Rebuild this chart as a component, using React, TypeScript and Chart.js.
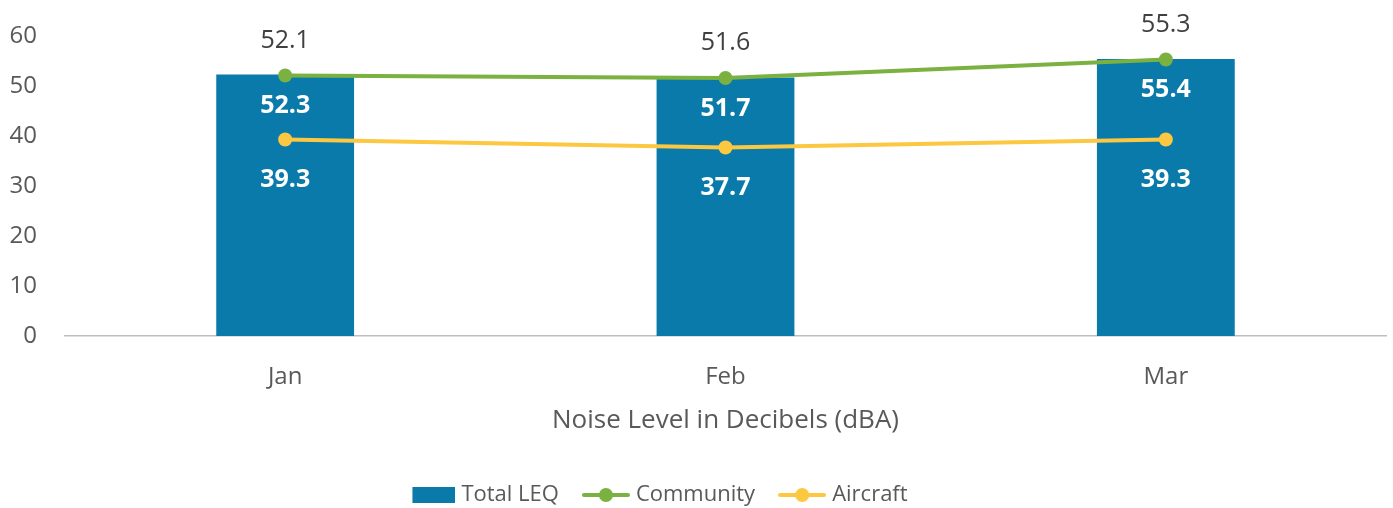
import React, { useEffect, useRef } from "react";
import { Chart, registerables } from "chart.js";

Chart.register(...registerables);

const categories = ["Jan", "Feb", "Mar"];
const totalLeq = [52.3, 51.7, 55.4];
const community = [52.1, 51.6, 55.3];
const aircraft = [39.3, 37.7, 39.3];
const yTicks = [0, 10, 20, 30, 40, 50, 60];
const axisTitle = "Noise Level in Decibels (dBA)";

const BLUE = "#097AAA";
const GREEN = "#7AB140";
const YELLOW = "#FDC841";
const FONT = "'Open Sans', sans-serif";
const FS = 24;

function makeBarIcon() {
  const c = document.createElement("canvas");
  c.width = 48;
  c.height = 18;
  const ctx = c.getContext("2d")!;
  ctx.fillStyle = BLUE;
  ctx.fillRect(5, 1, 43, 16);
  return c;
}
function makeLineIcon(color: string) {
  const c = document.createElement("canvas");
  c.width = 48;
  c.height = 18;
  const ctx = c.getContext("2d")!;
  ctx.strokeStyle = color;
  ctx.lineWidth = 4;
  ctx.lineCap = "round";
  ctx.beginPath();
  ctx.moveTo(2, 9);
  ctx.lineTo(46, 9);
  ctx.stroke();
  ctx.fillStyle = color;
  ctx.beginPath();
  ctx.arc(24, 9, 7, 0, Math.PI * 2);
  ctx.fill();
  return c;
}

const labelPlugin = {
  id: "valueLabels",
  afterLayout(chart: any) {
    if (chart.legend) {
      chart.legend.left -= 34;
      chart.legend.right -= 34;
    }
  },
  afterDatasetsDraw(chart: any) {
    const ctx = chart.ctx;
    ctx.save();
    ctx.textAlign = "center";
    ctx.textBaseline = "middle";
    chart.data.datasets.forEach((ds: any, i: number) => {
      const meta = chart.getDatasetMeta(i);
      meta.data.forEach((el: any, j: number) => {
        const v = ds.data[j];
        const txt = v.toFixed(1);
        if (i === 0) {
          ctx.font = `bold 25px ${FONT}`;
          ctx.fillStyle = "#FFFFFF";
          ctx.fillText(txt, el.x, el.y + 31);
        } else if (i === 1) {
          ctx.font = `25px ${FONT}`;
          ctx.fillStyle = "#404040";
          ctx.fillText(txt, el.x, el.y - 35);
        } else {
          ctx.font = `bold 25px ${FONT}`;
          ctx.fillStyle = "#FFFFFF";
          ctx.fillText(txt, el.x, el.y + 40);
        }
      });
    });
    ctx.restore();
  },
};

export default function App() {
  const ref = useRef<HTMLCanvasElement>(null);
  useEffect(() => {
    const icons = [makeBarIcon(), makeLineIcon(GREEN), makeLineIcon(YELLOW)];
    const chart = new Chart(ref.current!, {
      type: "bar",
      data: {
        labels: categories,
        datasets: [
          {
            type: "bar",
            label: "Total LEQ",
            data: totalLeq,
            backgroundColor: BLUE,
            barPercentage: 0.313,
            categoryPercentage: 1,
            order: 3,
          },
          {
            type: "line",
            label: "Community",
            data: community,
            borderColor: GREEN,
            backgroundColor: GREEN,
            borderWidth: 4,
            pointRadius: 7,
            pointHoverRadius: 7,
            pointBorderWidth: 0,
            order: 1,
          },
          {
            type: "line",
            label: "Aircraft",
            data: aircraft,
            borderColor: YELLOW,
            backgroundColor: YELLOW,
            borderWidth: 4,
            pointRadius: 7,
            pointHoverRadius: 7,
            pointBorderWidth: 0,
            order: 2,
          },
        ] as any,
      },
      options: {
        animation: false,
        responsive: true,
        maintainAspectRatio: false,
        layout: { padding: { top: 36, right: 5, left: 0, bottom: -8 } },
        plugins: {
          tooltip: { enabled: false },
          legend: {
            position: "bottom",
            labels: {
              usePointStyle: true,
              pointStyleWidth: 38,
              boxHeight: 16,
              padding: 28,
              color: "#595959",
              font: { family: FONT, size: 22 },
              generateLabels: (chart: any) =>
                chart.data.datasets.map((ds: any, i: number) => ({
                  text: ds.label,
                  pointStyle: icons[i],
                  fillStyle: "transparent",
                  strokeStyle: "transparent",
                  lineWidth: 0,
                  fontColor: "#595959",
                  hidden: false,
                  datasetIndex: i,
                })),
            },
          },
        },
        scales: {
          x: {
            grid: { display: true, color: "rgba(0,0,0,0)", drawTicks: false },
            border: { display: true, color: "#BFBFBF", width: 1.5 },
            ticks: {
              color: "#595959",
              font: { family: FONT, size: FS },
              padding: 27,
            },
            title: {
              display: true,
              text: axisTitle,
              color: "#595959",
              font: { family: FONT, size: 26 },
              padding: { top: -14, bottom: 20 },
            },
          },
          y: {
            min: 0,
            max: 60,
            afterFit: (s: any) => {
              s.width = 65;
              s.paddingTop = 0;
              s.paddingBottom = 0;
            },
            afterBuildTicks: (s: any) => {
              s.ticks = yTicks.map((v) => ({ value: v }));
            },
            grid: { display: false, drawTicks: false },
            border: { display: false },
            ticks: {
              color: "#595959",
              font: { family: FONT, size: FS },
              padding: 28,
            },
          },
        },
      },
      plugins: [labelPlugin],
    });
    return () => chart.destroy();
  }, []);
  return (
    <div style={{ position: "fixed", left: 0, top: 0, width: 1393, height: 508, background: "#fff" }}>
      <canvas ref={ref} />
    </div>
  );
}
